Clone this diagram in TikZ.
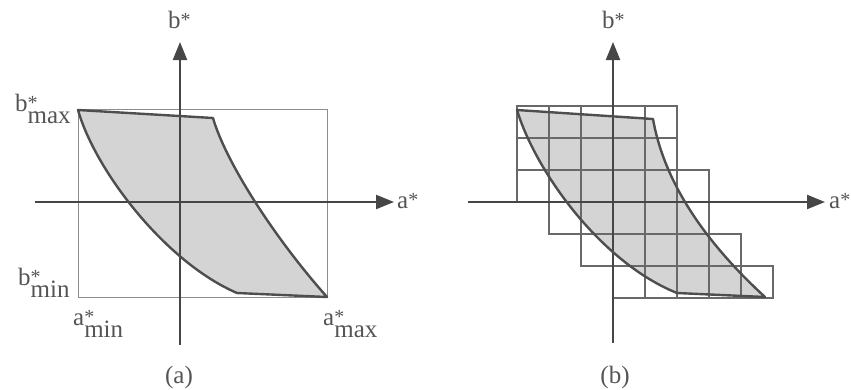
\documentclass[tikz,border=0pt]{standalone}
\usepackage{fontspec}
\setmainfont{Liberation Serif}
\usetikzlibrary{arrows.meta}
\definecolor{axisc}{RGB}{70,70,70}
\definecolor{edgec}{RGB}{78,78,78}
\definecolor{fillc}{RGB}{212,212,212}
\definecolor{rectc}{RGB}{140,140,140}
\definecolor{gridc}{RGB}{105,105,105}
\definecolor{textc}{RGB}{85,85,85}
\newcommand{\sstar}{\raisebox{1.5pt}{\fontsize{20}{20}\selectfont *}}
\newcommand{\mylbl}[2]{#1\rlap{\sstar}\raisebox{-12.5pt}{#2}}
\begin{document}
\begin{tikzpicture}[x=1pt,y=-1pt,
  every node/.style={text=textc, font=\fontsize{25}{25}\selectfont, inner sep=0pt},
  axis/.style={draw=axisc, line width=2.2pt, -{Triangle[length=18pt,width=14pt]}},
  outline/.style={draw=edgec, line width=2.4pt, line join=round},
  frame/.style={draw=rectc, line width=1pt},
  cell/.style={draw=gridc, line width=1.3pt}]
\useasboundingbox (0,0) rectangle (851,389);

% ---------- panel (a) ----------
\fill[fillc] (78,110) -- (213,118) .. controls (225,160) and (272,235) .. (327,297)
  -- (237,293) .. controls (165,262) and (95,170) .. (78,110) -- cycle;
\draw[frame] (78,109) rectangle (327,297);
\coordinate (ax0) at (35,202);
\coordinate (ax1) at (394,202);
\coordinate (ay0) at (180,345);
\coordinate (ay1) at (180,42);
\draw[axis] (ax0) -- (ax1);
\draw[axis] (ay0) -- (ay1);
\draw[outline] (78,110) -- (213,118) .. controls (225,160) and (272,235) .. (327,297)
  -- (237,293) .. controls (165,262) and (95,170) .. (78,110) -- cycle;

\node[anchor=base west] (lbA) at (168,28) {b\sstar};
\node[anchor=base west] (laA) at (397,208) {a\sstar};
\node[anchor=base west] (bmax) at (15,111) {\mylbl{b}{max}};
\node[anchor=base west] (bmin) at (18,285) {\mylbl{b}{min}};
\node[anchor=base west] (amin) at (73,325) {\mylbl{a}{min}};
\node[anchor=base west] (amax) at (323,325) {\mylbl{a}{max}};
\node[anchor=base] (capA) at (179,383) {(a)};

% ---------- panel (b) ----------
\fill[fillc] (517,110) -- (653,119) .. controls (662,170) and (692,230) .. (765,297)
  -- (677,293) .. controls (600,262) and (535,170) .. (517,110) -- cycle;
\foreach \j/\a/\b in {3/-3/1, 2/-3/1, 1/-3/2, 0/-2/2, -1/-1/3, -2/0/4}
  \foreach \i in {\a,...,\b}
    \draw[cell] ({613+32*\i},{202-32*\j}) rectangle ++(32,32);
\coordinate (bx0) at (468,202);
\coordinate (bx1) at (825,202);
\coordinate (by0) at (613,343);
\coordinate (by1) at (613,42);
\draw[axis] (bx0) -- (bx1);
\draw[axis] (by0) -- (by1);
\draw[outline] (517,110) -- (653,119) .. controls (662,170) and (692,230) .. (765,297)
  -- (677,293) .. controls (600,262) and (535,170) .. (517,110) -- cycle;

\node[anchor=base west] (lbB) at (602,28) {b\sstar};
\node[anchor=base west] (laB) at (829,208) {a\sstar};
\node[anchor=base] (capB) at (615,383) {(b)};
\end{tikzpicture}
\end{document}
